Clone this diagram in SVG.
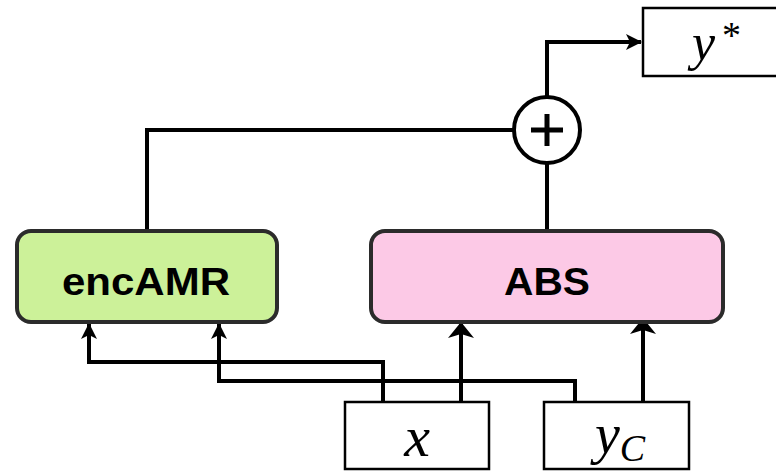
<svg xmlns="http://www.w3.org/2000/svg" width="776" height="472" viewBox="0 0 776 472">
<defs>
<marker id="ah" viewBox="0 0 16 16" refX="15" refY="8" markerWidth="16" markerHeight="16" markerUnits="userSpaceOnUse" orient="auto">
<path d="M0,0 L16,8 L0,16 L4,8 Z" fill="#000"/>
</marker>
<marker id="ahb" viewBox="0 0 16 26" refX="15" refY="13" markerWidth="16" markerHeight="26" markerUnits="userSpaceOnUse" orient="auto">
<path d="M0,0 L16,13 L0,26 L4,13 Z" fill="#000"/>
</marker>
</defs>
<style>
.box{stroke:#2b2b2b;stroke-width:4}
.sq{fill:#fff;stroke:#000;stroke-width:2.5}
.lbl{font-family:"Liberation Sans",Arial,sans-serif;font-weight:bold;font-size:39px;fill:#000}
.math{font-family:"Liberation Serif","Times New Roman",serif;font-style:italic;fill:#000}
.ln{fill:none;stroke:#000;stroke-width:4}
</style>
<rect width="776" height="472" fill="#fff"/>
<g id="connectors">
<polyline class="ln" points="147,231 147,130 513,130"/>
<line class="ln" x1="547" y1="231" x2="547" y2="164"/>
<polyline class="ln" points="547,96 547,42 641,42" marker-end="url(#ah)"/>
<polyline class="ln" points="383,402 383,362 89,362 89,324" marker-end="url(#ah)"/>
<polyline class="ln" points="575,402 575,381 219,381 219,324" marker-end="url(#ah)"/>
<line class="ln" x1="461" y1="402" x2="461" y2="323" marker-end="url(#ahb)"/>
<line class="ln" x1="643" y1="402" x2="643" y2="319" marker-end="url(#ahb)"/>
</g>
<g id="encAMR">
<rect class="box" x="17" y="231" width="260" height="91" rx="14" fill="#ccf199"/>
<text class="lbl" x="146" y="295" text-anchor="middle" textLength="168" lengthAdjust="spacingAndGlyphs">encAMR</text>
</g>
<g id="ABS">
<rect class="box" x="371" y="231" width="352" height="91" rx="14" fill="#fcc9e6"/>
<text class="lbl" x="547" y="295" text-anchor="middle" textLength="86" lengthAdjust="spacingAndGlyphs">ABS</text>
</g>
<g id="sum">
<circle cx="547" cy="130" r="33" fill="#fff" stroke="#000" stroke-width="4"/>
<path d="M531,130 H563 M547,114 V146" stroke="#000" stroke-width="5" fill="none"/>
</g>
<g id="ystar">
<rect class="sq" x="643" y="8" width="140" height="68"/>
<text class="math" x="692" y="60" font-size="52">y<tspan x="722" font-size="38" font-style="normal" dy="-12">*</tspan></text>
</g>
<g id="x">
<rect class="sq" x="345" y="402" width="144" height="67"/>
<text class="math" x="417" y="456" font-size="58" text-anchor="middle">x</text>
</g>
<g id="yC">
<rect class="sq" x="544" y="402" width="145" height="67"/>
<text class="math" x="595" y="453" font-size="56">y<tspan font-size="38" dy="8">C</tspan></text>
</g>
</svg>
